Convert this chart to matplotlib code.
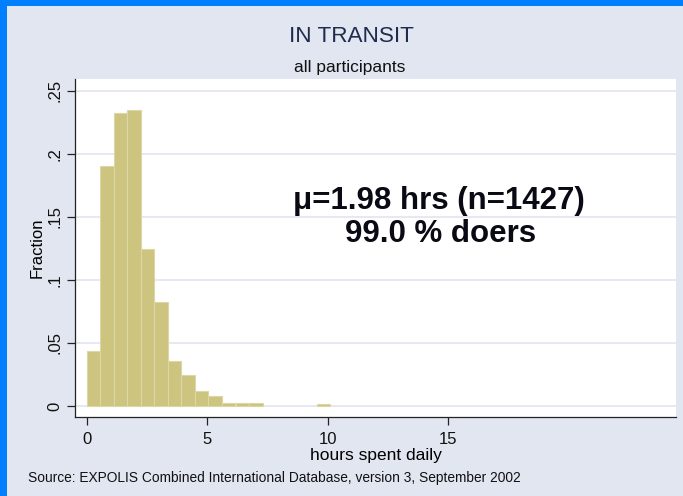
import matplotlib
matplotlib.use("Agg")
import matplotlib.pyplot as plt
from matplotlib.patches import Rectangle

# histogram of daily hours in transit (fraction of participants)
bin_left = [0.00, 0.56, 1.12, 1.68, 2.25, 2.81, 3.37, 3.93, 4.49, 5.05, 5.61, 6.18, 6.74, 9.54]
fraction = [0.0439, 0.1905, 0.2323, 0.2344, 0.1242, 0.0825, 0.0359, 0.0248, 0.0117,
            0.0077, 0.0027, 0.0027, 0.0021, 0.0014]
bin_width = 0.5615

x_ticks = [0, 5, 10, 15]
y_ticks = [0, 0.05, 0.10, 0.15, 0.20, 0.25]
y_labels = ["0", ".05", ".1", ".15", ".2", ".25"]

title = "IN TRANSIT"
subtitle = "all participants"
note_1 = "\u03bc=1.98 hrs (n=1427)"
note_2 = "99.0 % doers"
source = "Source: EXPOLIS Combined International Database, version 3, September 2002"

plt.rcParams["font.family"] = ["Liberation Sans", "DejaVu Sans"]

bg = "#E1E6F0"
fig = plt.figure(figsize=(6.83, 4.96), dpi=100, facecolor=bg)

# blue slide frame on top and left
fig.patches.append(Rectangle((0, 0), 7 / 683, 1, transform=fig.transFigure,
                             facecolor="#0080FF", edgecolor="none", zorder=0))
fig.patches.append(Rectangle((0, 1 - 6 / 496), 1, 6 / 496, transform=fig.transFigure,
                             facecolor="#0080FF", edgecolor="none", zorder=0))

ax = fig.add_axes([75 / 683, 79 / 496, 601 / 683, 338 / 496])
ax.set_facecolor("white")
ax.bar(bin_left, fraction, width=bin_width, align="edge", color="#CCC47F",
       edgecolor="#DDD7A6", linewidth=0.8, zorder=3)

ax.set_xlim(-0.485, 24.45)
ax.set_ylim(-0.0087, 0.2593)
ax.set_xticks(x_ticks)
ax.set_yticks(y_ticks)
ax.set_yticklabels(y_labels, rotation=90, va="center")
ax.tick_params(axis="both", direction="out", length=6, width=0.9, color="#222222",
               labelsize=12, labelcolor="#111111")
ax.tick_params(axis="x", pad=4.5)
ax.tick_params(axis="y", pad=3)
ax.grid(axis="y", color="#E4E4F0", linewidth=1.2, zorder=0)
ax.set_axisbelow(True)
for s in ["top", "right"]:
    ax.spines[s].set_visible(False)
for s in ["left", "bottom"]:
    ax.spines[s].set_color("#222222")
    ax.spines[s].set_linewidth(0.9)

ax.set_ylabel("Fraction", fontsize=12, labelpad=2)
ax.set_xlabel("hours spent daily", fontsize=12.5, labelpad=1.3)

ax.text(0.606, 0.615, note_1, transform=ax.transAxes, ha="center", va="baseline",
        fontsize=22.5, fontweight="bold", color="#0A0A14")
ax.text(0.608, 0.518, note_2, transform=ax.transAxes, ha="center", va="baseline",
        fontsize=22.5, fontweight="bold", color="#0A0A14")

fig.text(351 / 683, 1 - 36.5 / 496, title, ha="center", va="center",
         fontsize=16.2, color="#1F2B4F")
fig.text(350 / 683, 1 - 72 / 496, subtitle, ha="center", va="baseline",
         fontsize=12.5, color="#111111")
fig.text(28 / 683, 1 - 478 / 496, source, ha="left", va="center",
         fontsize=9.9, color="#111111")

fig.savefig("out.png", dpi=100, facecolor=bg)
